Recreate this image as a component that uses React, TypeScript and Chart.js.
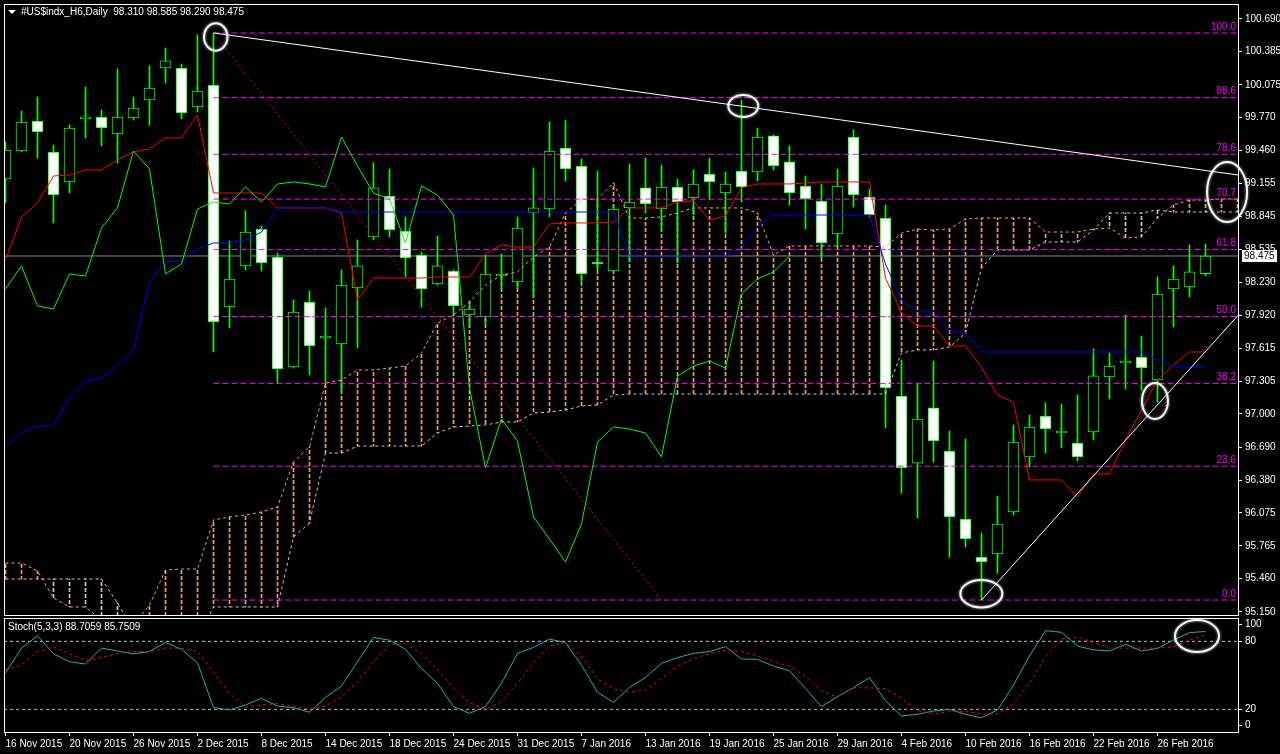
import React, { useEffect, useRef } from 'react';
import { Chart, registerables } from 'chart.js';

Chart.register(...registerables);

const FONT = '"Liberation Sans", Arial, sans-serif';
const FONT_SIZE = 10;

// ---------------- data ----------------
const symbolTitle = '#US$indx_H6,Daily';

const dateLabels = ['16 Nov 2015', '20 Nov 2015', '26 Nov 2015', '2 Dec 2015', '8 Dec 2015', '14 Dec 2015', '18 Dec 2015', '24 Dec 2015', '31 Dec 2015', '7 Jan 2016', '13 Jan 2016', '19 Jan 2016', '25 Jan 2016', '29 Jan 2016', '4 Feb 2016', '10 Feb 2016', '16 Feb 2016', '22 Feb 2016', '26 Feb 2016'];
const dateLabelBars = [0, 4, 8, 12, 16, 20, 24, 28, 32, 36, 40, 44, 48, 52, 56, 60, 64, 68, 72];

const priceTicks = [100.69, 100.385, 100.075, 99.77, 99.46, 99.155, 98.845, 98.535, 98.23, 97.92, 97.615, 97.305, 97.0, 96.69, 96.38, 96.075, 95.765, 95.46, 95.15];

const stochTickValues = [5.6, 20, 80, 95.3];
const stochTickLabels = ['0', '20', '80', '100'];
const stochLevels = [20, 80];

const opens = [99.195, 99.456, 99.737, 99.447, 99.167, 99.756, 99.774, 99.615, 99.765, 99.933,
  100.232, 100.232, 99.868, 100.073, 97.998, 98.382, 98.727, 98.466, 97.438, 98.045,
  97.709, 97.653, 98.176, 98.653, 99.036, 98.709, 98.484, 98.213, 98.335, 97.924,
  97.905, 98.288, 98.232, 98.877, 98.914, 99.484, 99.316, 98.419, 98.335, 98.924,
  99.111, 98.914, 99.120, 99.017, 99.241, 99.064, 99.269, 99.260, 99.597, 99.354,
  99.129, 98.989, 98.681, 99.587, 99.026, 98.830, 97.167, 96.540, 97.055, 96.653,
  96.017, 95.662, 95.690, 96.083, 96.597, 96.980, 96.821, 96.727, 96.830, 97.344,
  97.475, 97.531, 97.316, 98.167, 98.185, 98.310];
const highs = [99.541, 99.830, 99.961, 99.512, 99.699, 100.055, 99.840, 100.223, 99.961, 100.251,
  100.419, 100.269, 100.540, 100.559, 98.615, 98.896, 98.755, 98.503, 98.064, 98.148,
  97.989, 98.344, 98.625, 99.344, 99.288, 98.840, 98.512, 98.662, 98.344, 98.055,
  98.484, 98.494, 98.840, 99.298, 99.727, 99.746, 99.382, 99.269, 98.952, 99.335,
  99.391, 99.326, 99.195, 99.279, 99.391, 99.260, 99.933, 99.671, 99.606, 99.503,
  99.223, 99.148, 99.288, 99.653, 99.101, 98.952, 97.503, 97.288, 97.494, 96.840,
  96.765, 95.886, 96.232, 96.896, 96.989, 97.101, 97.092, 97.176, 97.606, 97.569,
  97.924, 97.727, 98.279, 98.382, 98.578, 98.585];
const lows = [98.970, 99.447, 99.391, 98.784, 99.064, 99.578, 99.503, 99.344, 99.746, 99.699,
  100.092, 99.756, 99.821, 97.578, 97.802, 98.344, 98.335, 97.288, 97.428, 97.363,
  97.288, 97.204, 97.615, 98.625, 98.653, 98.279, 97.998, 98.204, 97.924, 97.812,
  97.830, 98.157, 98.176, 98.092, 98.840, 99.176, 98.232, 98.344, 98.326, 98.419,
  98.877, 98.718, 98.410, 98.858, 98.998, 98.690, 98.980, 99.176, 99.279, 98.952,
  98.727, 98.456, 98.559, 98.933, 98.840, 96.868, 96.260, 96.027, 96.550, 95.662,
  95.756, 95.260, 95.512, 96.055, 96.503, 96.634, 96.681, 96.559, 96.755, 97.139,
  97.232, 97.223, 97.111, 97.812, 98.092, 98.290];
const closes = [99.466, 99.727, 99.634, 99.045, 99.671, 99.756, 99.671, 99.774, 99.858, 100.045,
  100.298, 99.812, 100.017, 97.858, 98.260, 98.699, 98.410, 97.419, 97.952, 97.634,
  97.709, 98.204, 98.382, 99.111, 98.718, 98.456, 98.167, 98.382, 98.008, 97.980,
  98.307, 98.288, 98.737, 98.924, 99.456, 99.288, 98.307, 98.400, 98.914, 98.980,
  98.961, 99.120, 98.980, 99.148, 99.167, 99.148, 99.120, 99.587, 99.316, 99.064,
  99.008, 98.597, 99.129, 99.045, 98.858, 97.241, 96.494, 96.952, 96.746, 96.036,
  95.830, 95.615, 95.970, 96.737, 96.877, 96.858, 96.821, 96.597, 97.354, 97.447,
  97.494, 97.428, 98.120, 98.260, 98.326, 98.475];

const tenkan = [98.438, 98.840, 98.970, 99.223, 99.232, 99.279, 99.279, 99.372, 99.447, 99.475,
  99.578, 99.578, 99.793, 99.064, 99.064, 99.064, 99.064, 98.924, 98.924, 98.924,
  98.924, 98.877, 98.064, 98.269, 98.269, 98.269, 98.269, 98.279, 98.279, 98.279,
  98.494, 98.578, 98.559, 98.559, 98.774, 98.784, 98.784, 98.784, 98.793, 98.924,
  98.924, 98.924, 98.980, 98.989, 98.812, 98.849, 99.111, 99.148, 99.148, 99.148,
  99.157, 99.167, 99.167, 99.167, 99.167, 98.269, 97.942, 97.821, 97.821, 97.634,
  97.634, 97.438, 97.176, 97.111, 96.382, 96.382, 96.382, 96.223, 96.438, 96.438,
  96.755, 97.036, 97.316, 97.456, 97.578, 97.578];
const kijun = [96.690, 96.821, 96.886, 96.886, 97.157, 97.307, 97.335, 97.456, 97.597, 98.232,
  98.428, 98.428, 98.540, 98.597, 98.597, 98.625, 98.699, 98.924, 98.924, 98.924,
  98.924, 98.886, 98.886, 98.886, 98.886, 98.886, 98.886, 98.886, 98.886, 98.886,
  98.886, 98.886, 98.886, 98.886, 98.886, 98.886, 98.886, 98.886, 98.886, 98.475,
  98.475, 98.475, 98.475, 98.475, 98.475, 98.475, 98.540, 98.755, 98.858, 98.858,
  98.858, 98.858, 98.858, 98.858, 98.858, 98.400, 98.064, 97.961, 97.961, 97.765,
  97.765, 97.578, 97.578, 97.578, 97.578, 97.578, 97.578, 97.578, 97.578, 97.578,
  97.578, 97.578, 97.503, 97.438, 97.438, 97.438];
const senkouA = [95.606, 95.606, 95.531, 95.279, 95.195, 95.195, 95.073, 94.998, 95.026, 95.213,
  95.540, 95.550, 95.550, 96.008, 96.036, 96.054, 96.083, 96.129, 96.550, 96.690,
  97.288, 97.316, 97.410, 97.410, 97.428, 97.447, 97.569, 97.849, 97.924, 98.045,
  98.204, 98.297, 98.326, 98.466, 98.559, 98.877, 98.998, 99.008, 99.157, 98.830,
  98.830, 98.840, 98.877, 98.924, 98.924, 98.924, 98.924, 98.877, 98.484, 98.569,
  98.569, 98.569, 98.569, 98.569, 98.569, 98.559, 98.690, 98.727, 98.718, 98.727,
  98.821, 98.830, 98.830, 98.830, 98.830, 98.699, 98.699, 98.699, 98.727, 98.737,
  98.643, 98.653, 98.830, 98.952, 98.998, 98.998, 99.008, 99.008];
const senkouB = [95.456, 95.456, 95.456, 95.456, 95.456, 95.456, 95.456, 95.232, 94.980, 94.886,
  94.886, 94.886, 94.886, 95.195, 95.195, 95.195, 95.195, 95.195, 95.849, 95.980,
  96.634, 96.634, 96.699, 96.699, 96.699, 96.699, 96.699, 96.821, 96.877, 96.886,
  96.896, 96.924, 96.924, 97.008, 97.017, 97.036, 97.073, 97.083, 97.176, 97.185,
  97.185, 97.185, 97.185, 97.185, 97.185, 97.185, 97.185, 97.185, 97.185, 97.185,
  97.185, 97.185, 97.185, 97.185, 97.185, 97.185, 97.569, 97.597, 97.597, 97.625,
  97.755, 98.363, 98.531, 98.531, 98.531, 98.606, 98.606, 98.606, 98.718, 98.877,
  98.877, 98.877, 98.905, 98.886, 98.886, 98.886, 98.886, 98.886];

const stochK = [52, 74, 85, 69, 62, 60, 74, 71.5, 69, 71,
  79, 73, 61, 21.5, 19.4, 23.8, 29.7, 22.9, 21.5, 17.4,
  30.6, 40.6, 62, 83.5, 81, 73, 56, 43, 22.4, 16.5,
  22.4, 43, 69.4, 74.7, 82, 78.8, 59, 35, 26, 39.4,
  48.2, 60.6, 65.6, 69.4, 70.9, 75.3, 64.4, 64.1, 58.2, 54.1,
  38.5, 22.4, 31.2, 39.1, 47.9, 27.6, 14.1, 15.6, 18.5, 20.0,
  15.6, 12.6, 19.4, 41.5, 67.1, 89.4, 88.0, 75.9, 72.4, 71.5,
  77.4, 71.5, 73.8, 81.2, 87.7, 88.7059];
const stochD = [55, 59, 71, 75, 69, 63, 66, 69, 71, 71,
  74, 74, 71, 53, 34, 22, 24, 25, 23, 20,
  23, 31, 44, 62, 77, 78, 69, 55, 39, 26,
  20, 27, 43, 61, 76, 79, 67, 47, 38, 35,
  37, 47, 58, 65, 69, 72, 71, 67, 62, 58,
  49, 36, 31, 39, 39, 38, 30, 19, 16, 18,
  18, 16, 16, 25, 43, 66, 82, 84, 79, 74,
  74, 74, 74, 75, 81, 85.7509];

const fibLevels = [0, 23.6, 38.2, 50, 61.8, 70.7, 78.6, 88.6, 100];
const fibHighBar = 13;
const fibHighPrice = 100.559;
const fibLowBar = 41;
const fibLowPrice = 95.26;

const trendTopBars = [13, 77.03];
const trendTopPrices = [100.559, 99.232];
const trendBottomBars = [61, 77.03];
const trendBottomPrices = [95.26, 97.919];

const lastPrice = 98.475;

const mainEllipseBars = [13.14, 46.11, 76.35, 71.84, 60.99];
const mainEllipsePrices = [100.522, 99.877, 99.073, 97.12, 95.319];
const mainEllipseRx = [11.7, 15, 20, 13, 21];
const mainEllipseRy = [13.7, 11, 30, 18, 13.7];
const stochEllipseBar = 74.47;
const stochEllipseValue = 84.7;

// ---------------- layout constants ----------------
const X_MIN = -0.09375;
const X_MAX = 77.03125;
const Y_MIN = 95.12;
const Y_MAX = 100.83;
const STOCH_MAX = 100.6;

const LIME = '#00FF00';
const ORANGE = '#F4A460';
const THISTLE = '#D8BFD8';
const MAGENTA = '#FF00FF';

function dashPattern(color: string, on: number, off: number) {
  const c = document.createElement('canvas');
  c.width = 1;
  c.height = on + off;
  const g = c.getContext('2d') as CanvasRenderingContext2D;
  g.fillStyle = color;
  g.fillRect(0, 0, 1, on);
  return g.createPattern(c, 'repeat');
}

function lineDs(data: any[], color: string, dash: number[], order: number) {
  return {
    type: 'line',
    data,
    borderColor: color,
    borderWidth: 1,
    borderDash: dash,
    pointRadius: 0,
    tension: 0,
    fill: false,
    order,
  };
}

function drawEllipse(ctx: CanvasRenderingContext2D, cx: number, cy: number, rx: number, ry: number) {
  ctx.save();
  ctx.strokeStyle = 'rgba(255,255,255,0.95)';
  ctx.lineWidth = 2;
  ctx.shadowColor = 'rgba(255,255,255,0.8)';
  ctx.shadowBlur = 3;
  ctx.beginPath();
  ctx.ellipse(cx, cy, rx, ry, 0, 0, Math.PI * 2);
  ctx.stroke();
  ctx.restore();
}

const mainOverlay = {
  id: 'mainOverlay',
  afterDraw(chart: any) {
    const { ctx, chartArea: a, scales } = chart;
    const x = scales.x;
    const y = scales.y;
    ctx.save();
    ctx.strokeStyle = '#FFFFFF';
    ctx.lineWidth = 1;
    ctx.strokeRect(Math.round(a.left) + 0.5, Math.round(a.top) + 0.5, Math.round(a.right - a.left), Math.round(a.bottom - a.top));
    ctx.font = `${FONT_SIZE}px ${FONT}`;
    ctx.fillStyle = MAGENTA;
    ctx.textAlign = 'right';
    ctx.textBaseline = 'bottom';
    fibLevels.forEach((lvl) => {
      const p = fibLowPrice + ((fibHighPrice - fibLowPrice) * lvl) / 100;
      ctx.fillText(lvl.toFixed(1), a.right - 2, y.getPixelForValue(p) - 1);
    });
    const py = Math.round(y.getPixelForValue(lastPrice));
    ctx.fillStyle = '#FFFFFF';
    ctx.fillRect(a.right + 4, py - 6, 35, 12);
    ctx.fillStyle = '#000000';
    ctx.textAlign = 'left';
    ctx.textBaseline = 'middle';
    ctx.fillText(lastPrice.toFixed(3), a.right + 6, py + 0.5);
    ctx.fillStyle = '#FFFFFF';
    ctx.beginPath();
    ctx.moveTo(8, 10);
    ctx.lineTo(16, 10);
    ctx.lineTo(12, 14);
    ctx.closePath();
    ctx.fill();
    const n = closes.length - 1;
    const hdr = `${symbolTitle}  ${opens[n].toFixed(3)} ${highs[n].toFixed(3)} ${lows[n].toFixed(3)} ${closes[n].toFixed(3)}`;
    ctx.textBaseline = 'middle';
    ctx.fillText(hdr, 21, 12.5);
    ctx.restore();
    mainEllipseBars.forEach((b, i) => {
      drawEllipse(ctx, x.getPixelForValue(b), y.getPixelForValue(mainEllipsePrices[i]), mainEllipseRx[i], mainEllipseRy[i]);
    });
  },
};

const stochOverlay = {
  id: 'stochOverlay',
  afterDraw(chart: any) {
    const { ctx, chartArea: a, scales } = chart;
    ctx.save();
    ctx.strokeStyle = '#FFFFFF';
    ctx.lineWidth = 1;
    ctx.strokeRect(Math.round(a.left) + 0.5, Math.round(a.top) + 0.5, Math.round(a.right - a.left), Math.round(a.bottom - a.top));
    ctx.font = `${FONT_SIZE}px ${FONT}`;
    ctx.fillStyle = '#FFFFFF';
    ctx.textAlign = 'left';
    ctx.textBaseline = 'middle';
    const n = stochK.length - 1;
    ctx.fillText(`Stoch(5,3,3) ${stochK[n].toFixed(4)} ${stochD[n].toFixed(4)}`, 8, 11);
    ctx.restore();
    drawEllipse(ctx, scales.x.getPixelForValue(stochEllipseBar), scales.y.getPixelForValue(stochEllipseValue), 22, 16);
  },
};

export default function App() {
  const mainRef = useRef<HTMLCanvasElement>(null);
  const stochRef = useRef<HTMLCanvasElement>(null);

  useEffect(() => {
    Chart.defaults.font.family = FONT;
    Chart.defaults.font.size = FONT_SIZE;
    Chart.defaults.color = '#FFFFFF';

    const orangeHatch = dashPattern(ORANGE, 4, 2);
    const thistleHatch = dashPattern(THISTLE, 4, 2);

    const barIdx = opens.map((_, i) => i);
    const cloudIdx = senkouA.map((_, i) => i);

    const hatchData = cloudIdx.map((i) => ({ x: i, y: [senkouA[i], senkouB[i]] }));
    const hatchColors = cloudIdx.map((i) => (senkouA[i] >= senkouB[i] ? orangeHatch : thistleHatch));
    const wickData = barIdx.map((i) => ({ x: i, y: [lows[i], highs[i]] }));
    const bodyData = barIdx.map((i) => ({ x: i, y: [opens[i], closes[i]] }));
    const bodyColors = barIdx.map((i) => (closes[i] < opens[i] ? '#FFFFFF' : '#000000'));

    const fibDatasets = fibLevels.map((lvl) => {
      const p = fibLowPrice + ((fibHighPrice - fibLowPrice) * lvl) / 100;
      return lineDs([{ x: fibHighBar, y: p }, { x: X_MAX, y: p }], MAGENTA, [6, 3], 2);
    });

    const tickFont = { family: FONT, size: FONT_SIZE };

    const mainChart = new Chart(mainRef.current as HTMLCanvasElement, {
      type: 'bar',
      data: {
        datasets: [
          { type: 'bar', data: hatchData, backgroundColor: hatchColors, barThickness: 1, grouped: false, order: 50 },
          lineDs([{ x: X_MIN, y: lastPrice }, { x: X_MAX, y: lastPrice }], '#778899', [], 45),
          { type: 'bar', data: wickData, backgroundColor: LIME, barThickness: 1, grouped: false, order: 40 },
          {
            type: 'bar',
            data: bodyData,
            backgroundColor: bodyColors,
            borderColor: LIME,
            borderWidth: 1,
            borderSkipped: false,
            barThickness: 11,
            minBarLength: 2,
            grouped: false,
            order: 30,
          },
          lineDs(senkouA.map((v, i) => ({ x: i, y: v })), ORANGE, [3, 3], 12),
          lineDs(senkouB.map((v, i) => ({ x: i, y: v })), THISTLE, [3, 3], 11),
          lineDs(tenkan.map((v, i) => ({ x: i, y: v })), '#FF0000', [], 10),
          lineDs(kijun.map((v, i) => ({ x: i, y: v })), '#0000FF', [], 9),
          lineDs(closes.slice(26).map((v, i) => ({ x: i, y: v })), LIME, [], 8),
          ...fibDatasets,
          lineDs([{ x: fibHighBar, y: fibHighPrice }, { x: fibLowBar, y: fibLowPrice }], '#FF0000', [2, 3], 1),
          lineDs(trendTopBars.map((b, i) => ({ x: b, y: trendTopPrices[i] })), '#FFFFFF', [], 0),
          lineDs(trendBottomBars.map((b, i) => ({ x: b, y: trendBottomPrices[i] })), '#FFFFFF', [], 0),
        ] as any,
      },
      options: {
        animation: false,
        responsive: false,
        devicePixelRatio: 1,
        events: [],
        layout: { padding: { left: 4, top: 4, right: 0, bottom: 2 } },
        plugins: { legend: { display: false }, tooltip: { enabled: false } },
        scales: {
          x: { type: 'linear', min: X_MIN, max: X_MAX, offset: false, display: false },
          y: {
            type: 'linear',
            position: 'right',
            min: Y_MIN,
            max: Y_MAX,
            afterBuildTicks: (s: any) => {
              s.ticks = priceTicks.map((v) => ({ value: v }));
            },
            afterFit: (s: any) => {
              s.width = 42;
              s.paddingTop = 0;
              s.paddingBottom = 0;
            },
            ticks: { color: '#FFFFFF', font: tickFont, padding: 3, autoSkip: false, callback: (v: any) => Number(v).toFixed(3) },
            grid: { drawOnChartArea: false, drawTicks: true, tickLength: 4, color: '#FFFFFF' },
            border: { display: true, color: '#FFFFFF' },
          },
        },
      } as any,
      plugins: [mainOverlay],
    });

    const stochChart = new Chart(stochRef.current as HTMLCanvasElement, {
      type: 'line',
      data: {
        datasets: [
          ...stochLevels.map((v) => lineDs([{ x: X_MIN, y: v }, { x: X_MAX, y: v }], '#C0C0C0', [3, 3], 5)),
          lineDs(stochK.map((v, i) => ({ x: i, y: v })), '#20B2AA', [], 2),
          lineDs(stochD.map((v, i) => ({ x: i, y: v })), '#FF0000', [3, 3], 1),
        ] as any,
      },
      options: {
        animation: false,
        responsive: false,
        devicePixelRatio: 1,
        events: [],
        layout: { padding: { left: 4, top: 2, right: 0, bottom: 0 } },
        plugins: { legend: { display: false }, tooltip: { enabled: false } },
        scales: {
          x: {
            type: 'linear',
            min: X_MIN,
            max: X_MAX,
            offset: false,
            afterBuildTicks: (s: any) => {
              s.ticks = dateLabelBars.map((v) => ({ value: v }));
            },
            afterFit: (s: any) => {
              s.height = 22;
              s.paddingLeft = 0;
              s.paddingRight = 0;
            },
            ticks: {
              color: '#FFFFFF',
              font: tickFont,
              autoSkip: false,
              maxRotation: 0,
              minRotation: 0,
              align: 'start',
              padding: 2,
              callback: (_v: any, i: number) => dateLabels[i],
            },
            grid: { drawOnChartArea: false, drawTicks: true, tickLength: 4, color: '#FFFFFF' },
            border: { display: true, color: '#FFFFFF' },
          },
          y: {
            type: 'linear',
            position: 'right',
            min: 0,
            max: STOCH_MAX,
            afterBuildTicks: (s: any) => {
              s.ticks = stochTickValues.map((v) => ({ value: v }));
            },
            afterFit: (s: any) => {
              s.width = 42;
              s.paddingTop = 0;
              s.paddingBottom = 0;
            },
            ticks: { color: '#FFFFFF', font: tickFont, padding: 3, autoSkip: false, callback: (_v: any, i: number) => stochTickLabels[i] },
            grid: { drawOnChartArea: false, drawTicks: true, tickLength: 4, color: '#FFFFFF' },
            border: { display: true, color: '#FFFFFF' },
          },
        },
      } as any,
      plugins: [stochOverlay],
    });

    return () => {
      mainChart.destroy();
      stochChart.destroy();
    };
  }, []);

  return (
    <div style={{ position: 'fixed', left: 0, top: 0, width: 1280, height: 754, background: '#000000', overflow: 'hidden' }}>
      <canvas ref={mainRef} width={1280} height={617} style={{ position: 'absolute', left: 0, top: 0, width: 1280, height: 617 }} />
      <canvas ref={stochRef} width={1280} height={138} style={{ position: 'absolute', left: 0, top: 616, width: 1280, height: 138 }} />
    </div>
  );
}
